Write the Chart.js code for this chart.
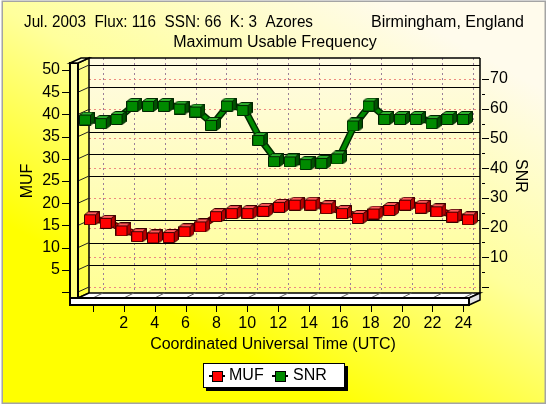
<!DOCTYPE html>
<html>
<head>
<meta charset="utf-8">
<script src="https://cdn.jsdelivr.net/npm/chart.js@4.4.1/dist/chart.umd.min.js"></script>
<style>
  html, body { margin: 0; padding: 0; background: #fff; }
  canvas { display: block; }
</style>
</head>
<body>
<canvas id="muf_chart" width="550" height="405"></canvas>
<script>
// MUF / SNR forecast, one value per hour UTC
const hours = [0, 1, 2, 3, 4, 5, 6, 7, 8, 9, 10, 11, 12, 13, 14, 15, 16, 17, 18, 19, 20, 21, 22, 23, 24];
const mufValues = [16.6, 15.8, 14.1, 12.8, 12.5, 12.6, 13.9, 15.0, 17.3, 18.0, 18.0, 18.5, 19.4,
                   19.9, 19.9, 19.1, 18.0, 16.9, 17.9, 18.7, 19.9, 19.2, 18.4, 17.2, 16.6];
const snrValues = [56.7, 55.5, 56.9, 61.3, 61.3, 61.3, 60.4, 59.4, 54.9, 61.4, 59.9, 49.8, 42.7,
                   42.6, 41.7, 42.1, 43.6, 54.7, 61.4, 56.9, 56.9, 56.9, 55.5, 56.9, 56.9];
const hourTicks = [0, 2, 4, 6, 8, 10, 12, 14, 16, 18, 20, 22, 24];
const mufTicks = [0, 5, 10, 15, 20, 25, 30, 35, 40, 45, 50];
const snrTicks = [0, 5, 10, 15, 20, 25, 30, 35, 40, 45, 50, 55, 60, 65, 70];
const seriesNames = ['MUF', 'SNR'];

const headerLeft = 'Jul. 2003  Flux: 116  SSN: 66  K: 3  Azores';
const headerRight = 'Birmingham, England';
const chartTitle = 'Maximum Usable Frequency';
const xTitle = 'Coordinated Universal Time (UTC)';

const FONT = '"Liberation Sans", Arial, sans-serif';
const DX = 11, DY = 5; // depth of the 3d walls

function poly(ctx, pts, fill, stroke, lw) {
  ctx.beginPath();
  pts.forEach(([x, y], i) => i ? ctx.lineTo(x, y) : ctx.moveTo(x, y));
  ctx.closePath();
  if (fill) { ctx.fillStyle = fill; ctx.fill(); }
  if (stroke) { ctx.lineWidth = lw || 1; ctx.strokeStyle = stroke; ctx.stroke(); }
}

function seg(ctx, x1, y1, x2, y2) {
  ctx.beginPath();
  ctx.moveTo(x1, y1);
  ctx.lineTo(x2, y2);
  ctx.stroke();
}

// little 3d box used as point marker
function makeCube(front, top, side, edge) {
  const c = document.createElement('canvas');
  c.width = 16;
  c.height = 14;
  const g = c.getContext('2d');
  poly(g, [[0.5, 3.5], [4.5, 0.5], [15.5, 0.5], [11.5, 3.5]], top, edge);
  poly(g, [[11.5, 3.5], [15.5, 0.5], [15.5, 10.5], [11.5, 13.5]], side, edge);
  poly(g, [[0.5, 3.5], [11.5, 3.5], [11.5, 13.5], [0.5, 13.5]], front, edge);
  return c;
}
const redCube = makeCube('#ff0000', '#ff5a5a', '#b80000', '#3a0000');
const greenCube = makeCube('#008a00', '#2fb02f', '#005200', '#002400');
const edgeColors = ['#5a0000', '#002c00'];

function legendMarker(ctx, cx, cy, color) {
  ctx.strokeStyle = '#000';
  ctx.lineWidth = 2;
  seg(ctx, cx - 8, cy, cx + 8, cy);
  ctx.fillStyle = color;
  ctx.fillRect(cx - 5, cy - 5, 10, 10);
  ctx.lineWidth = 1;
  ctx.strokeRect(cx - 4.5, cy - 4.5, 10, 10);
}

const frame3d = {
  id: 'frame3d',
  beforeDraw(chart) {
    const { ctx, chartArea: a, scales } = chart;
    const xs = scales.x, muf = scales.muf, snr = scales.snr;
    const L = a.left, R = a.right, T = a.top, B = a.bottom;
    ctx.save();

    // page
    ctx.fillStyle = '#ffffff';
    ctx.fillRect(0, 0, chart.width, chart.height);
    const bg = ctx.createLinearGradient(380, 0, 200, 330);
    bg.addColorStop(0, '#fffbec');
    bg.addColorStop(0.5, '#ffff9c');
    bg.addColorStop(1, '#ffff00');
    ctx.fillStyle = bg;
    ctx.fillRect(2, 1, 543, 402);
    ctx.strokeStyle = '#a4a4a4';
    ctx.lineWidth = 1.5;
    ctx.strokeRect(2.25, 1.25, 543, 402);

    // back wall
    const wall = ctx.createLinearGradient(0, T, 0, B);
    wall.addColorStop(0, '#fffbe4');
    wall.addColorStop(1, '#ffff96');
    ctx.fillStyle = wall;
    ctx.fillRect(L, T, R - L, B - T);

    ctx.lineWidth = 1;
    ctx.setLineDash([2, 3]);
    ctx.strokeStyle = '#9a7f9a';
    hourTicks.forEach(h => {
      const px = Math.round(xs.getPixelForValue(h) + 10) + 0.5;
      seg(ctx, px, T, px, B);
    });

    const redY = snrTicks.filter(v => v % 10 === 0).map(v => snr.getPixelForValue(v));
    ctx.setLineDash([]);
    ctx.strokeStyle = '#000';
    mufTicks.forEach(v => {
      const py = Math.round(muf.getPixelForValue(v) - DY) + 0.5;
      if (redY.some(r => Math.abs(r - py) < 2.5)) return;
      seg(ctx, L, py, R, py);
    });
    ctx.setLineDash([2, 3]);
    ctx.strokeStyle = '#ee8a80';
    redY.forEach(r => {
      const py = Math.round(r) + 0.5;
      seg(ctx, L, py, R, py);
    });
    ctx.setLineDash([]);

    ctx.strokeStyle = '#000';
    ctx.lineWidth = 1.5;
    seg(ctx, L, T, R, T);
    seg(ctx, R, T, R, B);

    // left wall: inner face, grid diagonals, front slab
    const lw = ctx.createLinearGradient(0, T, 0, B);
    lw.addColorStop(0, '#ffff8c');
    lw.addColorStop(1, '#ffff40');
    poly(ctx, [[L, T], [L, B], [L - DX, B + DY], [L - DX, T + DY]], lw, '#000', 1.5);
    ctx.strokeStyle = '#222';
    ctx.lineWidth = 1;
    mufTicks.forEach(v => {
      const py = muf.getPixelForValue(v);
      seg(ctx, L - DX, py, L, py - DY);
    });

    // floor slab
    poly(ctx, [[L - DX, B + DY], [R - DX, B + DY], [R, B], [L, B]], '#ffffff', '#000', 1.5);
    ctx.strokeStyle = '#666';
    ctx.lineWidth = 1;
    hourTicks.forEach(h => {
      const px = xs.getPixelForValue(h);
      seg(ctx, px, B + DY, px + 10, B);
    });
    poly(ctx, [[R - DX, B + DY], [R, B], [R, B + 7], [R - DX, B + DY + 7]], '#e4e4e4', '#000', 1.5);
    poly(ctx, [[L - DX - 8, B + DY], [R - DX, B + DY], [R - DX, B + DY + 7], [L - DX - 8, B + DY + 7]], '#ffffff', '#000', 2);

    const slab = ctx.createLinearGradient(0, T, 0, B);
    slab.addColorStop(0, '#ffffb4');
    slab.addColorStop(1, '#ffff78');
    poly(ctx, [[L - DX - 8, T + DY], [L - DX, T + DY], [L - DX, B + DY], [L - DX - 8, B + DY]], slab, '#000', 2);
    poly(ctx, [[L - DX - 8, T + DY], [L - DX, T + DY], [L, T], [L - 8, T]], '#ffffd0', '#000', 1.5);

    // tick marks
    ctx.strokeStyle = '#000';
    ctx.lineWidth = 1;
    mufTicks.forEach(v => {
      const py = Math.round(muf.getPixelForValue(v)) + 0.5;
      seg(ctx, 62, py, 69, py);
    });
    snrTicks.forEach(v => {
      const py = Math.round(snr.getPixelForValue(v)) + 0.5;
      seg(ctx, R + 2, py, R + (v % 10 === 0 ? 9 : 5), py);
    });
    hourTicks.forEach(h => {
      const px = Math.round(xs.getPixelForValue(h)) + 0.5;
      seg(ctx, px, B + DY + 8, px, B + DY + 14);
    });

    // texts
    ctx.fillStyle = '#000';
    ctx.font = '16px ' + FONT;
    ctx.textBaseline = 'middle';
    ctx.textAlign = 'left';
    ctx.fillText(headerLeft, 24, 23, 289);
    ctx.textAlign = 'right';
    ctx.fillText(headerRight, 524, 23);
    ctx.textAlign = 'center';
    ctx.fillText(chartTitle, 275, 43);
    ctx.fillText(xTitle, 273, 345);

    ctx.save();
    ctx.translate(28, 181);
    ctx.rotate(-Math.PI / 2);
    ctx.fillText(seriesNames[0], 0, 0);
    ctx.restore();
    ctx.save();
    ctx.translate(520, 176);
    ctx.rotate(Math.PI / 2);
    ctx.fillText(seriesNames[1], 0, 0);
    ctx.restore();

    // legend
    ctx.fillStyle = '#000';
    ctx.fillRect(206, 366, 142, 25);
    ctx.fillStyle = '#fff';
    ctx.fillRect(203, 363, 142, 25);
    ctx.lineWidth = 1;
    ctx.strokeStyle = '#000';
    ctx.strokeRect(203.5, 363.5, 141, 24);
    legendMarker(ctx, 217, 376, '#ff0000');
    legendMarker(ctx, 280, 376, '#008a00');
    ctx.fillStyle = '#000';
    ctx.textAlign = 'left';
    ctx.fillText(seriesNames[0], 229, 376);
    ctx.fillText(seriesNames[1], 293, 376);

    ctx.restore();
  }
};

// dark edge under each series line
const ribbon = {
  id: 'ribbon',
  beforeDatasetDraw(chart, args) {
    const pts = args.meta.data;
    const ctx = chart.ctx;
    ctx.save();
    ctx.beginPath();
    pts.forEach((p, i) => i ? ctx.lineTo(p.x, p.y) : ctx.moveTo(p.x, p.y));
    ctx.lineWidth = 7;
    ctx.lineJoin = 'round';
    ctx.strokeStyle = edgeColors[args.index];
    ctx.stroke();
    ctx.restore();
  }
};

const tickFont = { family: FONT, size: 16 };

const ctx1 = document.getElementById('muf_chart').getContext('2d');
const mufChart = new Chart(ctx1, {
  type: 'line',
  data: {
    datasets: [{
      label: seriesNames[0],
      data: hours.map((h, i) => ({ x: h, y: mufValues[i] })),
      xAxisID: 'xm',
      yAxisID: 'muf',
      borderColor: '#ff0000',
      borderWidth: 4,
      tension: 0,
      clip: false,
      pointStyle: redCube,
      pointRadius: 7
    }, {
      label: seriesNames[1],
      data: hours.map((h, i) => ({ x: h, y: snrValues[i] })),
      xAxisID: 'xs',
      yAxisID: 'snr',
      borderColor: '#008a00',
      borderWidth: 4,
      tension: 0,
      clip: false,
      pointStyle: greenCube,
      pointRadius: 7
    }]
  },
  options: {
    responsive: false,
    devicePixelRatio: 1,
    animation: false,
    events: [],
    layout: { padding: { top: 58, left: 0, right: 0, bottom: 0 } },
    plugins: {
      legend: { display: false },
      tooltip: { enabled: false },
      title: { display: false }
    },
    scales: {
      x: {
        type: 'linear',
        position: 'bottom',
        min: -0.254,
        max: 25.08,
        afterBuildTicks: s => { s.ticks = hourTicks.map(v => ({ value: v })); },
        afterFit: s => { s.height = 112; },
        grid: { display: false, drawTicks: false },
        border: { display: false },
        ticks: {
          autoSkip: false,
          maxRotation: 0,
          padding: 21,
          color: '#000',
          font: tickFont,
          callback: v => v === 0 ? '' : v
        }
      },
      xm: { type: 'linear', display: false, min: -0.19, max: 24.635 },
      xs: { type: 'linear', display: false, min: 0.127, max: 24.95 },
      muf: {
        axis: 'y',
        type: 'linear',
        position: 'left',
        min: -0.225,
        max: 52.7,
        afterBuildTicks: s => { s.ticks = mufTicks.map(v => ({ value: v })); },
        afterFit: s => { s.width = 89; },
        grid: { display: false, drawTicks: false },
        border: { display: false },
        ticks: {
          padding: 29,
          color: '#000',
          font: tickFont,
          callback: v => v === 0 ? '' : v
        }
      },
      snr: {
        axis: 'y',
        type: 'linear',
        position: 'right',
        min: -2.02,
        max: 77.08,
        afterBuildTicks: s => { s.ticks = snrTicks.map(v => ({ value: v })); },
        afterFit: s => { s.width = 70; },
        grid: { display: false, drawTicks: false },
        border: { display: false },
        ticks: {
          padding: 10,
          color: '#000',
          font: tickFont,
          callback: v => (v > 0 && v % 10 === 0) ? v : ''
        }
      }
    }
  },
  plugins: [frame3d, ribbon]
});
</script>
</body>
</html>
